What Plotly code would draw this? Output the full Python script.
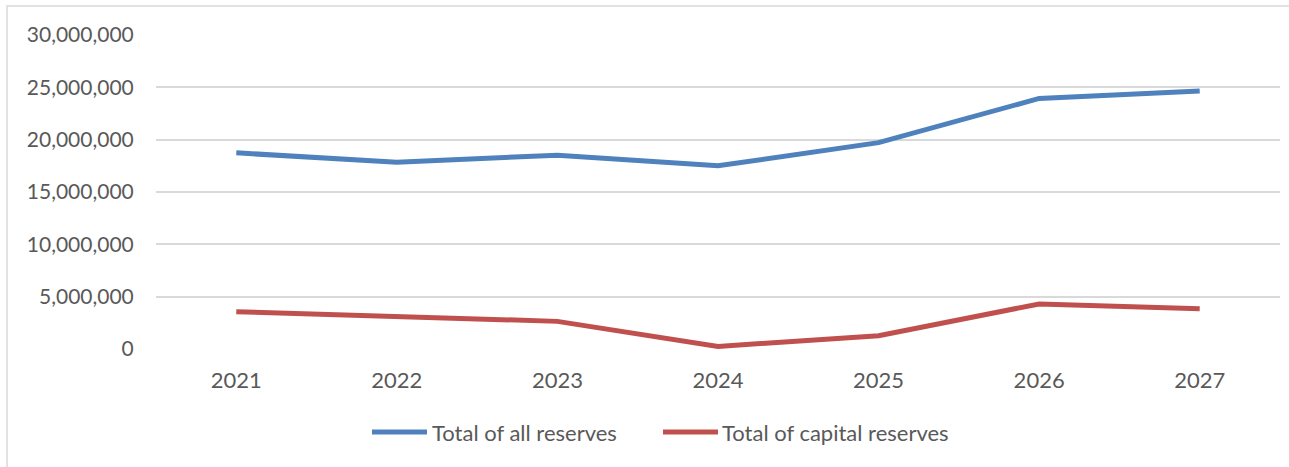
import plotly.graph_objects as go

years = ["2021", "2022", "2023", "2024", "2025", "2026", "2027"]
all_reserves = [18740000, 17850000, 18520000, 17500000, 19720000, 23940000, 24660000]
capital_reserves = [3570000, 3140000, 2640000, 250000, 1270000, 4300000, 3850000]

series_names = ["Total of all reserves", "Total of capital reserves"]
series_colors = ["#4F81BD", "#C0504D"]

W, H = 1289, 467
ML, MR, MT, MB = 156, 9, 35, 118
PW, PH = W - ML - MR, H - MT - MB

text_color = "#595959"
grid_color = "#D9D9D9"
font_family = "Lato, 'Open Sans', sans-serif"
font_size = 22
tick_size = 21

fig = go.Figure()
for name, color, values in zip(series_names, series_colors, [all_reserves, capital_reserves]):
    fig.add_trace(go.Scatter(
        x=years, y=values, mode="lines", name=name,
        line=dict(color=color, width=5),
        showlegend=False,
    ))


def px_to_paper_x(px):
    return (px - ML) / PW


def px_to_paper_y(py):
    return (H - MB - py) / PH


# chart-area frame
fig.add_shape(
    type="rect", xref="paper", yref="paper",
    x0=px_to_paper_x(7), x1=px_to_paper_x(W + 20),
    y0=px_to_paper_y(H + 20), y1=px_to_paper_y(6),
    line=dict(color=grid_color, width=1.5), fillcolor="rgba(0,0,0,0)",
    layer="below",
)

# legend row below the plot: a line key followed by its label
legend_y = px_to_paper_y(432)
legend_keys = [(372, 427, 430), (663, 718, 720)]
for (k0, k1, tx), name, color in zip(legend_keys, series_names, series_colors):
    fig.add_shape(
        type="line", xref="paper", yref="paper",
        x0=px_to_paper_x(k0), x1=px_to_paper_x(k1), y0=legend_y, y1=legend_y,
        line=dict(color=color, width=5),
    )
    fig.add_annotation(
        xref="paper", yref="paper", x=px_to_paper_x(tx), y=legend_y,
        xanchor="left", yanchor="middle", showarrow=False,
        text=name, font=dict(size=font_size, color=text_color),
    )

fig.update_layout(
    width=W, height=H,
    margin=dict(l=ML, r=MR, t=MT, b=MB, autoexpand=False),
    paper_bgcolor="white", plot_bgcolor="white",
    font=dict(family=font_family, color=text_color, size=font_size),
    showlegend=False,
    xaxis=dict(
        range=[-0.5, 6.5],
        showgrid=False, showline=False, zeroline=False,
        ticks="outside", ticklen=12, tickcolor="rgba(0,0,0,0)",
        tickfont=dict(size=font_size, color=text_color),
    ),
    yaxis=dict(
        range=[0, 30000000], dtick=5000000, tickformat=",d",
        showgrid=True, gridcolor=grid_color, gridwidth=1.5,
        zeroline=False, showline=False,
        ticks="outside", ticklen=17, tickcolor="rgba(0,0,0,0)",
        tickfont=dict(size=tick_size, color=text_color),
    ),
)

fig.write_html("out.html")
